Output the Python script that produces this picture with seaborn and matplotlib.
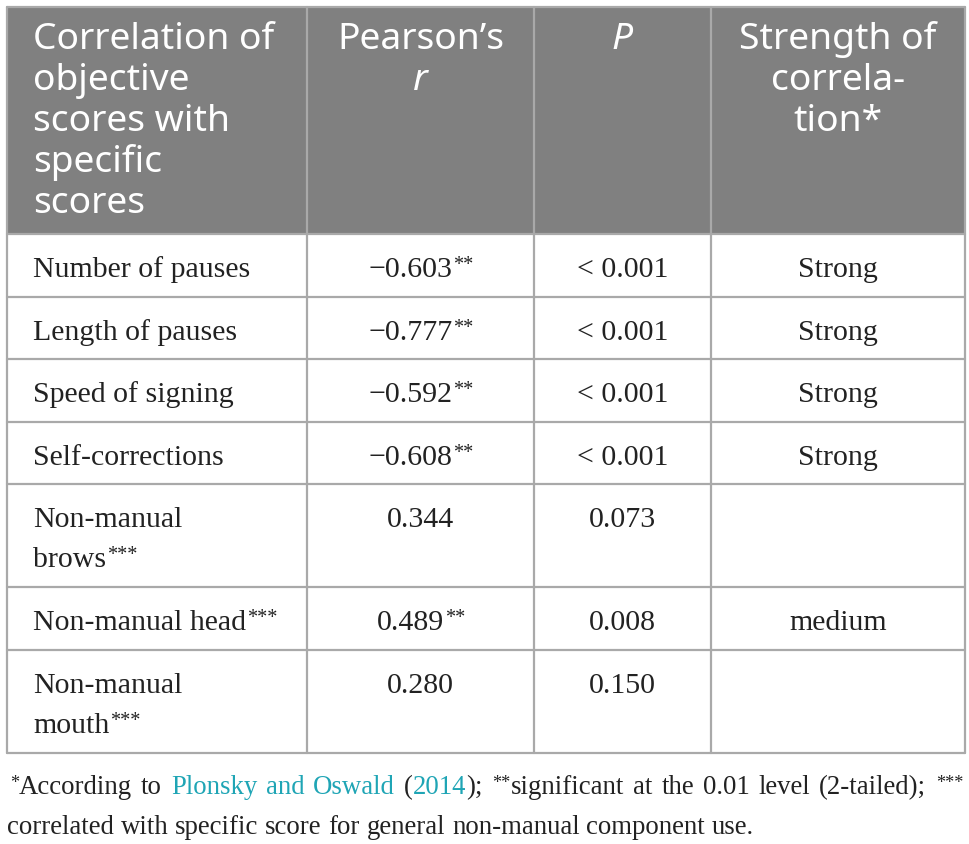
import matplotlib
matplotlib.use("Agg")
import matplotlib.pyplot as plt
import seaborn as sns

# table content
header = [
    ["Correlation of", "objective", "scores with", "specific", "scores"],
    ["Pearson\u2019s", "r"],
    ["P"],
    ["Strength of", "correla-", "tion*"],
]
header_italic = [[False] * 5, [False, True], [True], [False, False, False]]

variables = [["Number of pauses"], ["Length of pauses"], ["Speed of signing"],
             ["Self-corrections"], ["Non-manual", "brows"], ["Non-manual head"],
             ["Non-manual", "mouth"]]
var_marks = ["", "", "", "", "***", "***", "***"]
pearson_r = ["\u22120.603", "\u22120.777", "\u22120.592", "\u22120.608", "0.344", "0.489", "0.280"]
r_marks = ["**", "**", "**", "**", "", "**", ""]
p_values = ["< 0.001", "< 0.001", "< 0.001", "< 0.001", "0.073", "0.008", "0.150"]
strength = ["Strong", "Strong", "Strong", "Strong", "", "medium", ""]

# layout (pixels)
W, H = 970, 844
col_edges = [7, 307, 534, 711, 965]
row_edges = [7, 234, 297, 359, 422, 484, 587, 650, 753]
HEAD_BG = "#808080"
LINE = "#a9a9a9"
LINK = "#1fa5b5"
SANS = "Noto Sans"
SERIF = "Liberation Serif"
BODY = 21.5
HEAD = 26.8
FOOT = 19.3
SUP = 0.68

sns.set_theme(style="white")
plt.rcParams["font.family"] = [SERIF, "DejaVu Serif"]

fig = plt.figure(figsize=(W / 100, H / 100), dpi=100)
ax = fig.add_axes([0, 0, 1, 1])
ax.set_xlim(0, W)
ax.set_ylim(H, 0)
ax.axis("off")
renderer = fig.canvas.get_renderer()


def measure(txt, size, family, style="normal"):
    t = ax.text(0, 0, txt, fontsize=size, family=family, style=style)
    w = t.get_window_extent(renderer).width
    t.remove()
    return w


def space_width(size, family):
    return measure("a a", size, family) - measure("aa", size, family)


def draw_line(words, x, y, size, family, ha="left", justify=None):
    # words: list of words, each a list of (text, kind) runs
    ws = []
    for w in words:
        ws.append([measure(t, size * (SUP if k == "sup" else 1), family) for t, k in w])
    word_w = [sum(r) for r in ws]
    if justify is not None and len(words) > 1:
        gap = (justify - sum(word_w)) / (len(words) - 1)
    else:
        gap = space_width(size, family)
    total = sum(word_w) + gap * (len(words) - 1)
    cx = x if ha == "left" else x - total / 2
    for w, rw in zip(words, ws):
        for (t, k), tw in zip(w, rw):
            if k == "sup":
                ax.text(cx + 1, y - size * 1.389 * 0.22, t, fontsize=size * SUP, family=family,
                        va="baseline", ha="left", color="#222222")
                cx += 1
            else:
                ax.text(cx, y, t, fontsize=size, family=family, va="baseline", ha="left",
                        color=LINK if k == "link" else "#222222")
            cx += tw
        cx += gap


# header background and cell borders
ax.add_patch(plt.Rectangle((col_edges[0], row_edges[0]), col_edges[-1] - col_edges[0],
                           row_edges[1] - row_edges[0], color=HEAD_BG, lw=0, zorder=0))
for xe in col_edges:
    ax.plot([xe, xe], [row_edges[0], row_edges[-1]], color=LINE, lw=1.6, zorder=1)
for ye in row_edges:
    ax.plot([col_edges[0], col_edges[-1]], [ye, ye], color=LINE, lw=1.6, zorder=1)

# header text
for c, lines in enumerate(header):
    for i, line in enumerate(lines):
        yb = 49 + 41 * i
        if c == 0:
            ax.text(33, yb, line, fontsize=HEAD, family=SANS, color="white", va="baseline",
                    ha="left", style="italic" if header_italic[c][i] else "normal")
        else:
            xc = (col_edges[c] + col_edges[c + 1]) / 2
            ax.text(xc, yb, line, fontsize=HEAD, family=SANS, color="white", va="baseline",
                    ha="center", style="italic" if header_italic[c][i] else "normal")

# body rows
for r in range(len(variables)):
    top = row_edges[r + 1]
    yb = top + 43
    lines = variables[r]
    for i, line in enumerate(lines):
        words = [[(line, "n")]]
        if i == len(lines) - 1 and var_marks[r]:
            words = [[(line, "n"), (var_marks[r], "sup")]]
        draw_line(words, 33, yb + 40 * i, BODY, SERIF)
    cells = [
        [[(pearson_r[r], "n")] + ([(r_marks[r], "sup")] if r_marks[r] else [])],
        [[(p_values[r], "n")]],
        [[(strength[r], "n")]],
    ]
    for c, words in enumerate(cells, start=1):
        if words[0][0][0] == "":
            continue
        xc = (col_edges[c] + col_edges[c + 1]) / 2
        draw_line(words, xc, yb, BODY, SERIF, ha="center")

# footnote
foot1 = [
    [("*", "sup"), ("According", "n")], [("to", "n")],
    [("Plonsky", "link")], [("and", "link")], [("Oswald", "link")],
    [("(", "n"), ("2014", "link"), (");", "n")],
    [("**", "sup"), ("significant", "n")], [("at", "n")], [("the", "n")],
    [("0.01", "n")], [("level", "n")], [("(2-tailed);", "n")], [("***", "sup")],
]
draw_line(foot1, 9, 794, FOOT, SERIF, justify=951)
foot2 = [[(w, "n")] for w in "correlated with specific score for general non-manual component use.".split()]
draw_line(foot2, 7, 834, FOOT, SERIF)

fig.savefig("out.png", dpi=100, facecolor="white")
